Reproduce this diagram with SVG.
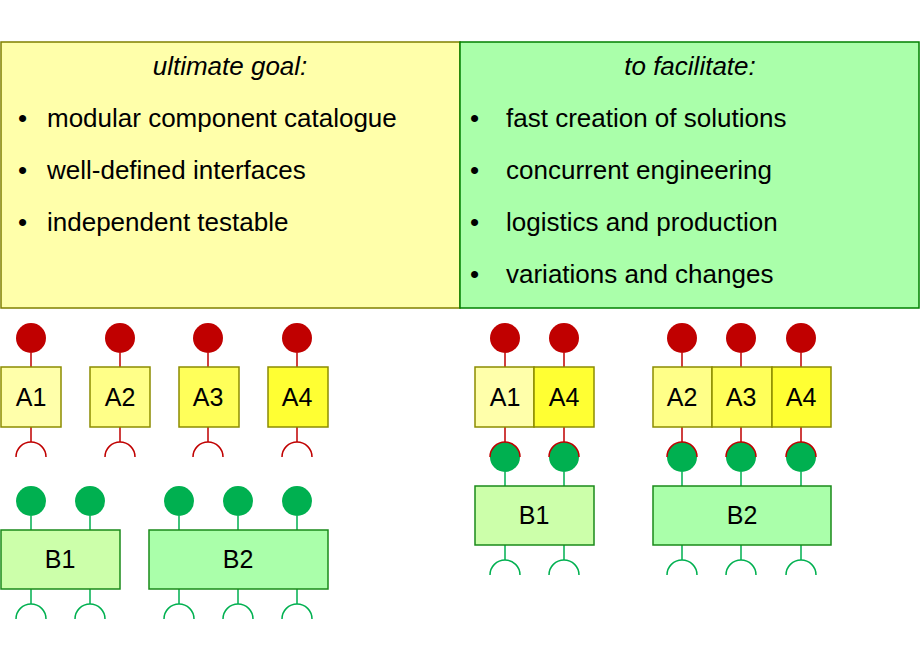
<svg xmlns="http://www.w3.org/2000/svg" width="920" height="660" viewBox="0 0 920 660">
<style>
text{font-family:"Liberation Sans",Arial,sans-serif;fill:#000}
.t{font-size:26px}
.n{font-size:25px;text-anchor:middle}
.ya{stroke:#8c8c00;stroke-width:1.5}
.gb{stroke:#1a8a1a;stroke-width:1.5}
.rl{stroke:#c00000;stroke-width:1.5;fill:none}
.gl{stroke:#00b050;stroke-width:1.5;fill:none}
.rc{fill:#c00000}
.gc{fill:#00b050}
</style>
<rect x="1" y="42" width="459" height="266" fill="#ffffaa" stroke="#808000" stroke-width="1.5"/>
<rect x="460" y="42" width="459" height="266" fill="#aaffaa" stroke="#008000" stroke-width="1.5"/>
<g class="t">
<text x="230" y="75" text-anchor="middle" font-style="italic">ultimate goal:</text>
<text x="18" y="127">•</text><text x="47" y="127">modular component catalogue</text>
<text x="18" y="179">•</text><text x="47" y="179">well-defined interfaces</text>
<text x="18" y="231">•</text><text x="47" y="231">independent testable</text>
<text x="690" y="75" text-anchor="middle" font-style="italic">to facilitate:</text>
<text x="470" y="127">•</text><text x="506" y="127">fast creation of solutions</text>
<text x="470" y="179">•</text><text x="506" y="179">concurrent engineering</text>
<text x="470" y="231">•</text><text x="506" y="231">logistics and production</text>
<text x="470" y="283">•</text><text x="506" y="283">variations and changes</text>
</g>
<defs>
<g id="aif"><circle cy="338" r="15" class="rc"/><path d="M0 353V367M0 427V442" class="rl"/><path d="M-15 457A15 15 0 0 1 15 457" class="rl"/></g>
<g id="bif"><circle cy="501" r="15" class="gc"/><path d="M0 516V530M0 589V604" class="gl"/><path d="M-15 619A15 15 0 0 1 15 619" class="gl"/></g>
<g id="cA"><circle cy="338" r="15" class="rc"/><path d="M0 353V367M0 427V442" class="rl"/><circle cy="457" r="15" class="gc"/><path d="M-15 457A15 15 0 0 1 15 457" class="rl"/><path d="M0 472V486M0 545V560" class="gl"/><path d="M-15 575A15 15 0 0 1 15 575" class="gl"/></g>
</defs>
<g id="connectors">
<use href="#aif" x="31"/><use href="#aif" x="120"/><use href="#aif" x="208"/><use href="#aif" x="297"/>
<use href="#bif" x="31"/><use href="#bif" x="90"/><use href="#bif" x="179"/><use href="#bif" x="238"/><use href="#bif" x="297"/>
<use href="#cA" x="505"/><use href="#cA" x="564"/><use href="#cA" x="682"/><use href="#cA" x="741"/><use href="#cA" x="801"/>
</g>
<g id="A1"><rect x="1" y="367" width="60" height="60" fill="#ffffaa" class="ya"/><text x="31" y="406" class="n">A1</text></g>
<g id="A2"><rect x="90" y="367" width="60" height="60" fill="#ffff88" class="ya"/><text x="120" y="406" class="n">A2</text></g>
<g id="A3"><rect x="179" y="367" width="60" height="60" fill="#ffff5a" class="ya"/><text x="208" y="406" class="n">A3</text></g>
<g id="A4"><rect x="268" y="367" width="60" height="60" fill="#ffff33" class="ya"/><text x="297" y="406" class="n">A4</text></g>
<g id="B1"><rect x="1" y="530" width="119" height="59" fill="#ccffaa" class="gb"/><text x="60" y="568" class="n">B1</text></g>
<g id="B2"><rect x="149" y="530" width="179" height="59" fill="#aaffaa" class="gb"/><text x="238" y="568" class="n">B2</text></g>
<g id="rA1"><rect x="475" y="367" width="59" height="60" fill="#ffffaa" class="ya"/><text x="505" y="406" class="n">A1</text></g>
<g id="rA4a"><rect x="534" y="367" width="60" height="60" fill="#ffff33" class="ya"/><text x="564" y="406" class="n">A4</text></g>
<g id="rB1"><rect x="475" y="486" width="119" height="59" fill="#ccffaa" class="gb"/><text x="534" y="524" class="n">B1</text></g>
<g id="rA2"><rect x="653" y="367" width="59" height="60" fill="#ffff88" class="ya"/><text x="682" y="406" class="n">A2</text></g>
<g id="rA3"><rect x="712" y="367" width="60" height="60" fill="#ffff5a" class="ya"/><text x="741" y="406" class="n">A3</text></g>
<g id="rA4b"><rect x="772" y="367" width="59" height="60" fill="#ffff33" class="ya"/><text x="801" y="406" class="n">A4</text></g>
<g id="rB2"><rect x="653" y="486" width="178" height="59" fill="#aaffaa" class="gb"/><text x="742" y="524" class="n">B2</text></g>
</svg>
